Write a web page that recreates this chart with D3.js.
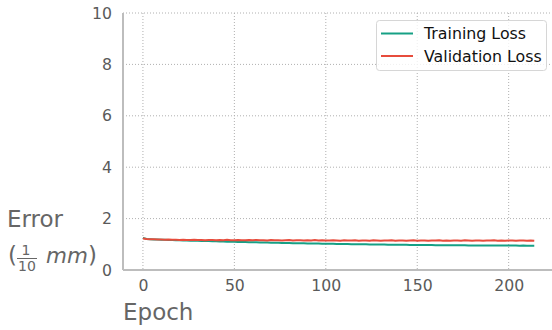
<!DOCTYPE html>
<html>
<head>
<meta charset="utf-8">
<script src="https://cdn.jsdelivr.net/npm/d3@7"></script>
<style>
body { margin: 0; background: #fff; }
svg { font-family: "DejaVu Sans", sans-serif; }
</style>
</head>
<body>
<div id="chart"></div>
<script>
// epochs sampled every 2
var epochs = [];
for (var e = 0; e <= 214; e += 2) epochs.push(e);

var trainLoss = [
    1.25, 1.21, 1.20, 1.19, 1.19, 1.18, 1.18, 1.17, 1.17, 1.16,
    1.16, 1.15, 1.15, 1.14, 1.14, 1.14, 1.13, 1.13, 1.13, 1.12,
    1.12, 1.11, 1.11, 1.10, 1.10, 1.10, 1.09, 1.09, 1.09, 1.08,
    1.08, 1.08, 1.07, 1.07, 1.07, 1.06, 1.06, 1.06, 1.05, 1.05,
    1.05, 1.04, 1.04, 1.04, 1.04, 1.03, 1.03, 1.03, 1.03, 1.02,
    1.02, 1.02, 1.02, 1.01, 1.01, 1.01, 1.01, 1.00, 1.00, 1.00,
    1.00, 1.00, 0.99, 0.99, 0.99, 0.99, 0.99, 0.98, 0.98, 0.98,
    0.98, 0.98, 0.98, 0.97, 0.97, 0.97, 0.97, 0.97, 0.97, 0.97,
    0.96, 0.96, 0.96, 0.96, 0.96, 0.96, 0.96, 0.96, 0.96, 0.95,
    0.95, 0.95, 0.95, 0.95, 0.95, 0.95, 0.95, 0.95, 0.95, 0.95,
    0.95, 0.95, 0.95, 0.94, 0.95, 0.94, 0.94, 0.94
];

var valLoss = [
    1.23, 1.21, 1.20, 1.20, 1.19, 1.19, 1.18, 1.19, 1.18, 1.18,
    1.17, 1.18, 1.17, 1.17, 1.18, 1.17, 1.17, 1.16, 1.17, 1.17,
    1.16, 1.17, 1.16, 1.18, 1.16, 1.16, 1.17, 1.16, 1.16, 1.17,
    1.16, 1.17, 1.16, 1.16, 1.15, 1.17, 1.16, 1.16, 1.15, 1.16,
    1.17, 1.15, 1.16, 1.16, 1.15, 1.16, 1.15, 1.17, 1.15, 1.16,
    1.15, 1.15, 1.16, 1.15, 1.14, 1.16, 1.15, 1.15, 1.16, 1.14,
    1.15, 1.15, 1.14, 1.16, 1.15, 1.14, 1.15, 1.15, 1.16, 1.14,
    1.15, 1.15, 1.14, 1.15, 1.16, 1.14, 1.15, 1.15, 1.14, 1.15,
    1.15, 1.16, 1.14, 1.15, 1.14, 1.15, 1.15, 1.14, 1.16, 1.15,
    1.14, 1.15, 1.15, 1.14, 1.15, 1.15, 1.16, 1.14, 1.15, 1.14,
    1.15, 1.15, 1.14, 1.15, 1.15, 1.14, 1.15, 1.14
];

var xTicks = [0, 50, 100, 150, 200];
var yTicks = [0, 2, 4, 6, 8, 10];
var seriesNames = ["Training Loss", "Validation Loss"];
var seriesColors = ["#16a085", "#e74c3c"];

var W = 552, H = 330;
var margin = { top: 13, right: 0, bottom: 60, left: 123 };
var width = W - margin.left - margin.right;
var height = H - margin.top - margin.bottom;

var x = d3.scaleLinear().domain([-10.9, 222.6]).range([0, width - 2]);
var y = d3.scaleLinear().domain([0, 10]).range([height, 0]);

var svg = d3.select("#chart").append("svg")
    .attr("width", W)
    .attr("height", H);

var g = svg.append("g")
    .attr("transform", "translate(" + margin.left + "," + margin.top + ")");

// grid
g.selectAll(".xgrid").data(xTicks).enter().append("line")
    .attr("x1", function (d) { return x(d); })
    .attr("x2", function (d) { return x(d); })
    .attr("y1", 0).attr("y2", height)
    .attr("stroke", "#b0b0b0").attr("stroke-width", 1)
    .attr("stroke-dasharray", "1,2");
g.selectAll(".ygrid").data(yTicks).enter().append("line")
    .attr("x1", 0).attr("x2", width)
    .attr("y1", function (d) { return y(d); })
    .attr("y2", function (d) { return y(d); })
    .attr("stroke", "#b0b0b0").attr("stroke-width", 1)
    .attr("stroke-dasharray", "1,2");

// lines
var series = [trainLoss, valLoss];
series.forEach(function (vals, i) {
    var line = d3.line()
        .x(function (d, j) { return x(epochs[j]); })
        .y(function (d) { return y(d); });
    g.append("path")
        .datum(vals)
        .attr("fill", "none")
        .attr("stroke", seriesColors[i])
        .attr("stroke-width", 2)
        .attr("d", line);
});

// axes
var xAxis = g.append("g")
    .attr("transform", "translate(0," + height + ")")
    .call(d3.axisBottom(x).tickValues(xTicks).tickSize(0).tickPadding(10));
var yAxis = g.append("g")
    .call(d3.axisLeft(y).tickValues(yTicks).tickSize(0).tickPadding(11));

[xAxis, yAxis].forEach(function (a) {
    a.select(".domain").attr("stroke", "#bdbdbd").attr("stroke-width", 2);
    a.selectAll("text")
        .attr("fill", "#5a5a5a")
        .style("font-size", "15.7px")
        .style("font-family", "DejaVu Sans");
});
xAxis.select(".domain").attr("d", "M0,0H" + width);
yAxis.select(".domain").attr("d", "M0," + height + "V0");

// axis labels
svg.append("text")
    .attr("x", 123).attr("y", 320)
    .attr("fill", "#666")
    .style("font-size", "23px")
    .text("Epoch");

svg.append("text")
    .attr("x", 7).attr("y", 227)
    .attr("fill", "#666")
    .style("font-size", "23px")
    .text("Error");

var unit = svg.append("g").attr("fill", "#666");
unit.append("text").attr("x", 8).attr("y", 263)
    .style("font-size", "23px").text("(");
unit.append("text").attr("x", 26).attr("y", 255)
    .attr("text-anchor", "middle")
    .style("font-size", "14px").text("1");
unit.append("line")
    .attr("x1", 17).attr("x2", 37).attr("y1", 258.5).attr("y2", 258.5)
    .attr("stroke", "#666").attr("stroke-width", 1);
unit.append("text").attr("x", 27).attr("y", 271)
    .attr("text-anchor", "middle")
    .style("font-size", "14px").text("10");
unit.append("text").attr("x", 46).attr("y", 263)
    .style("font-size", "21.5px").style("font-style", "italic").text("mm");
unit.append("text").attr("x", 88).attr("y", 263)
    .style("font-size", "23px").text(")");

// legend
var legend = svg.append("g");
legend.append("rect")
    .attr("x", 376.5).attr("y", 20.5).attr("width", 170).attr("height", 50)
    .attr("rx", 3)
    .attr("fill", "#fff").attr("fill-opacity", 0.8)
    .attr("stroke", "#d6d6d6").attr("stroke-width", 1);
seriesNames.forEach(function (name, i) {
    var yy = 33.5 + i * 22.5;
    legend.append("line")
        .attr("x1", 381).attr("x2", 413).attr("y1", yy).attr("y2", yy)
        .attr("stroke", seriesColors[i]).attr("stroke-width", 2);
    legend.append("text")
        .attr("x", 424).attr("y", yy + 5.5)
        .attr("fill", "#111")
        .style("font-size", "15.8px")
        .text(name);
});
</script>
</body>
</html>
